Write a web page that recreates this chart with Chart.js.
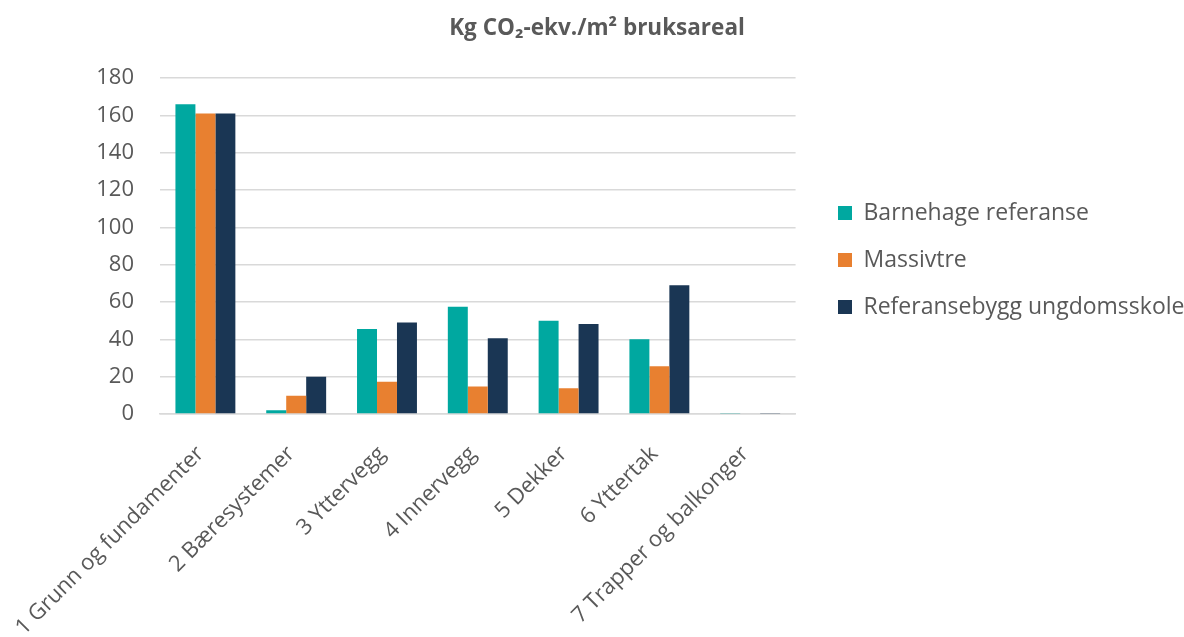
<!doctype html>
<html lang="no">
<head>
  <meta charset="utf-8">
  <title>Kg CO2-ekv per m2 bruksareal</title>
  <style>
    * {
      margin: 0;
      padding: 0;
    }

    body {
      background: #ffffff;
    }

    .chartBox {
      width: 1184px;
      height: 637px;
    }
  </style>
</head>
<body>
<div class="chartBox">
  <canvas id="myChart"></canvas>
</div>
<script src="https://cdn.jsdelivr.net/npm/chart.js"></script>
<script>
  // data
  const categories = [
    '1 Grunn og fundamenter',
    '2 Bæresystemer',
    '3 Yttervegg',
    '4 Innervegg',
    '5 Dekker',
    '6 Yttertak',
    '7 Trapper og balkonger'
  ];
  const barnehageReferanse = [166, 2, 45.5, 57.5, 50, 40, 0.3];
  const massivtre = [161, 9.8, 17.3, 14.7, 13.8, 25.6, 0];
  const referansebyggUngdomsskole = [161, 20, 49, 40.6, 48.2, 69, 0.3];
  const yTicks = [0, 20, 40, 60, 80, 100, 120, 140, 160, 180];

  const grey = '#595959';
  const font = "'Open Sans', sans-serif";

  // put the legend and title where the original has them
  const placeBoxes = {
    id: 'placeBoxes',
    afterLayout(chart) {
      const lg = chart.legend;
      const pad = lg.options.labels.padding;
      const dx = 838 - (lg.left + pad);
      lg.left += dx;
      lg.right += dx;
      const dy = 260 - (lg.top + lg.bottom) / 2;
      lg.top += dy;
      lg.bottom += dy;
      const tb = chart.titleBlock;
      tb.left += 9;
      tb.right += 9;
    }
  };

  const data = {
    labels: categories,
    datasets: [
      {
        label: 'Barnehage referanse',
        data: barnehageReferanse,
        backgroundColor: '#00a8a0'
      },
      {
        label: 'Massivtre',
        data: massivtre,
        backgroundColor: '#e88030'
      },
      {
        label: 'Referansebygg ungdomsskole',
        data: referansebyggUngdomsskole,
        backgroundColor: '#1a3654'
      }
    ]
  };

  const config = {
    type: 'bar',
    data,
    plugins: [placeBoxes],
    options: {
      responsive: true,
      maintainAspectRatio: false,
      animation: false,
      layout: {
        padding: {left: 0, right: 8, top: 0, bottom: 0}
      },
      datasets: {
        bar: {
          categoryPercentage: 0.66,
          barPercentage: 1
        }
      },
      plugins: {
        title: {
          display: true,
          text: 'Kg CO\u2082-ekv./m\u00b2 bruksareal',
          color: grey,
          font: {family: font, size: 22.5, weight: 'bold'},
          padding: {top: 15, bottom: 36}
        },
        legend: {
          position: 'right',
          align: 'center',
          maxWidth: 500,
          labels: {
            color: grey,
            font: {family: font, size: 23},
            boxWidth: 14,
            boxHeight: 14,
            padding: 24
          }
        },
        tooltip: {enabled: false}
      },
      scales: {
        x: {
          grid: {display: false},
          border: {display: true, color: '#d9d9d9', width: 1.5},
          ticks: {
            color: grey,
            font: {family: font, size: 22},
            minRotation: 45,
            maxRotation: 45,
            autoSkip: false,
            padding: 19,
            labelOffset: -5
          },
          afterFit(scale) {
            scale.height = 223;
            scale.paddingLeft = 0;
            scale.paddingRight = 0;
          }
        },
        y: {
          min: 0,
          max: 180,
          afterBuildTicks(scale) {
            scale.ticks = yTicks.map(v => ({value: v}));
          },
          grid: {color: '#d9d9d9', lineWidth: 1.5, drawTicks: false},
          border: {display: false},
          ticks: {
            color: grey,
            font: {family: font, size: 22},
            padding: 26
          },
          afterFit(scale) {
            scale.width = 160;
          }
        }
      }
    }
  };

  // wait for the local fonts so text widths are measured right
  Promise.all([
    document.fonts.load("22px 'Open Sans'"),
    document.fonts.load("bold 22px 'Open Sans'")
  ]).catch(() => {}).then(() => {
    window.myChart = new Chart(document.getElementById('myChart'), config);
  });
</script>
</body>
</html>
